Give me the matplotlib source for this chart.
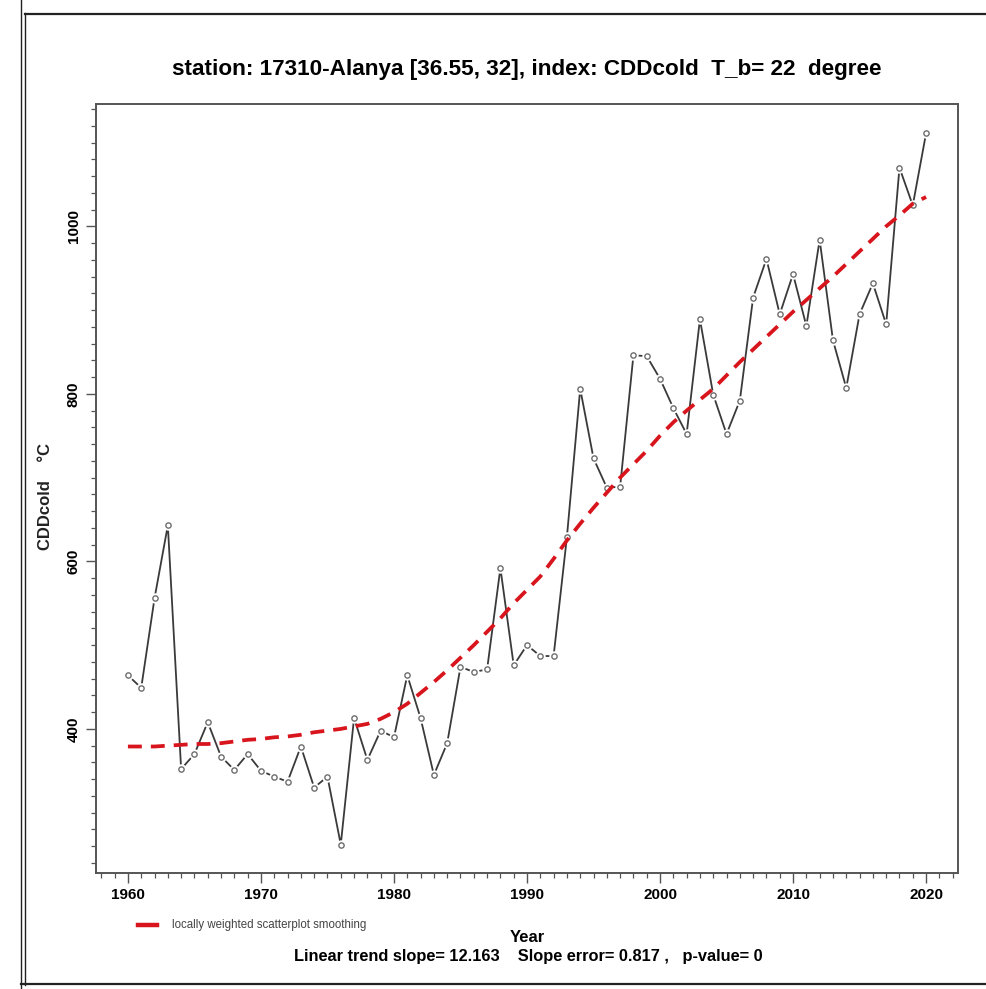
import matplotlib
matplotlib.use("Agg")
import matplotlib.pyplot as plt
from matplotlib.lines import Line2D
from matplotlib.ticker import MultipleLocator
import numpy as np

plt.rcParams['font.family'] = ['Liberation Sans', 'DejaVu Sans']
plt.rcParams['lines.scale_dashes'] = False

years = list(range(1960, 2021))
cdd_cold = [464, 449, 556, 643, 352, 370, 408, 367, 351, 370,
            350, 343, 337, 379, 330, 343, 262, 413, 363, 398,
            390, 464, 413, 345, 383, 474, 468, 471, 592, 476,
            500, 487, 487, 629, 806, 723, 688, 689, 846, 845,
            818, 783, 752, 889, 799, 752, 792, 915, 961, 895,
            943, 881, 984, 864, 807, 895, 932, 883, 1070, 1025,
            1111]
loess = [379, 379, 379, 380, 381, 382, 382, 383, 385, 387,
         388, 390, 391, 393, 396, 398, 400, 403, 406, 412,
         420, 430, 443, 456, 470, 485, 500, 516, 532, 550,
         566, 582, 603, 625, 645, 664, 682, 700, 716, 732,
         750, 766, 780, 793, 806, 822, 838, 853, 868, 883,
         898, 912, 926, 940, 955, 970, 985, 1000, 1013, 1027,
         1035]

title = "station: 17310-Alanya [36.55, 32], index: CDDcold  T_b= 22  degree"
ylabel = "CDDcold    \u00b0C"
xlabel = "Year"
legend_label = "locally weighted scatterplot smoothing"
trend_text = "Linear trend slope= 12.163    Slope error= 0.817 ,   p-value= 0"
xticks = [1960, 1970, 1980, 1990, 2000, 2010, 2020]
yticks = [400, 600, 800, 1000]

W, H = 986, 989
fig = plt.figure(figsize=(W / 100, H / 100), dpi=100)
ax = fig.add_axes([96 / W, 1 - 873 / H, (958 - 96) / W, (873 - 104) / H])

ax.plot(years, cdd_cold, color='#3a3a3a', lw=1.3, zorder=2)
ax.plot(years, cdd_cold, ls='none', marker='o', ms=7.5, mfc='white', mec='none', zorder=3)
ax.plot(years, cdd_cold, ls='none', marker='o', ms=3.8, mfc='white', mec='#6e6e6e', mew=1.0, zorder=4)
red_line, = ax.plot(years, loess, color='#d8141c', lw=2.7, dashes=(10, 6.5), zorder=5)

ax.set_xlim(1957.6, 2022.4)
ax.set_ylim(228, 1146)
ax.set_xticks(xticks)
ax.set_yticks(yticks)
ax.xaxis.set_minor_locator(MultipleLocator(1))
ax.yaxis.set_minor_locator(MultipleLocator(20))
ax.tick_params(axis='both', which='major', direction='out', length=7, width=1.0, color='#555555',
               labelsize=11, pad=4)
ax.tick_params(axis='both', which='minor', direction='out', length=3.5, width=0.9, color='#555555')
for lab in ax.get_xticklabels():
    lab.set_fontweight('bold')
for lab in ax.get_yticklabels():
    lab.set_fontweight('bold')
    lab.set_rotation(90)
    lab.set_va('center')
for s in ax.spines.values():
    s.set_color('#555555')
    s.set_linewidth(1.4)

ax.set_ylabel(ylabel, fontsize=12, fontweight='bold', color='#222222')
ax.yaxis.set_label_coords(-0.05, 0.49)

fig.text(527 / W, 1 - 70 / H, title, ha='center', va='center', fontsize=16.2, fontweight='bold')
fig.text(527 / W, 1 - 937 / H, xlabel, ha='center', va='center', fontsize=12, fontweight='bold')
fig.text(528 / W, 1 - 956 / H, trend_text, ha='center', va='center', fontsize=11.8, fontweight='bold')

# legend entry
fig.add_artist(Line2D([138 / W, 157 / W], [1 - 925 / H, 1 - 925 / H], color='#d8141c', lw=3.2))
fig.text(172 / W, 1 - 925 / H, legend_label, ha='left', va='center', fontsize=8.3, color='#444444')

# outer frame lines
fig.add_artist(Line2D([21 / W, 21 / W], [0, 1], color='#222222', lw=1.0))
fig.add_artist(Line2D([25 / W, 25 / W], [1 - 985 / H, 1 - 13 / H], color='#222222', lw=1.0))
fig.add_artist(Line2D([25 / W, 1], [1 - 14 / H, 1 - 14 / H], color='#222222', lw=1.6))
fig.add_artist(Line2D([21 / W, 1], [1 - 984 / H, 1 - 984 / H], color='#222222', lw=1.6))

fig.savefig('out.png', dpi=100)
